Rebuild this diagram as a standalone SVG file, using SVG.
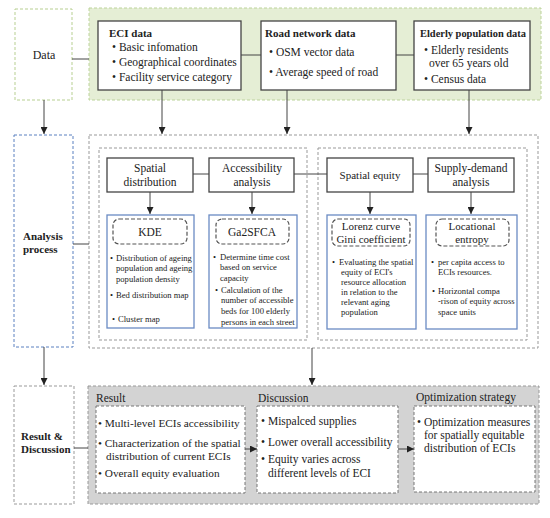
<svg xmlns="http://www.w3.org/2000/svg" width="550" height="518" viewBox="0 0 550 518" font-family="'Liberation Serif', 'DejaVu Serif', serif">
<defs>
<marker id="ah" viewBox="0 0 10 10" refX="10" refY="5" markerWidth="7" markerHeight="7" orient="auto" markerUnits="userSpaceOnUse"><path d="M0,0 L10,5 L0,10 z" fill="#222"/></marker>
<style>
text{font-family:'Liberation Serif','DejaVu Serif',serif;fill:#222}
.b{font-weight:bold;font-size:11px}
.t12{font-size:11.5px}
.t11{font-size:11px}
.t9{font-size:8.6px}
.solid{fill:#fff;stroke:#444;stroke-width:1.3}
.blue{fill:#fff;stroke:#6a8bc4;stroke-width:1.3}
.dash{fill:none;stroke:#999;stroke-width:1;stroke-dasharray:3,2}
.rdash{fill:#fff;stroke:#555;stroke-width:1.2;stroke-dasharray:4,2}
.wdash{fill:#fff;stroke:#777;stroke-width:1;stroke-dasharray:3,2}
.ln{stroke:#444;stroke-width:1;fill:none}
.ar{stroke:#444;stroke-width:1;fill:none;marker-end:url(#ah)}
</style>
</defs>
<rect width="550" height="518" fill="#fff"/>

<!-- Row labels -->
<g id="data-label">
<rect x="15" y="9" width="57" height="91" fill="#fff" stroke="#b7cf91" stroke-width="1" stroke-dasharray="3,2"/>
<text x="44" y="59" text-anchor="middle" style="font-size:12px">Data</text>
</g>
<g id="analysis-label">
<rect x="14" y="135" width="59" height="212" fill="#fff" stroke="#5b80c0" stroke-width="1" stroke-dasharray="3,2"/>
<text x="23" y="240" class="b">Analysis</text>
<text x="23" y="253" class="b">process</text>
</g>
<g id="result-label">
<rect x="14" y="386" width="60" height="118" fill="#fff" stroke="#999" stroke-width="1" stroke-dasharray="3,2"/>
<text x="21" y="440" class="b">Result &amp;</text>
<text x="21" y="453" class="b">Discussion</text>
</g>

<!-- Data area -->
<g id="data-area">
<rect x="89" y="8" width="452" height="92" fill="#e5eed5" stroke="#bcd39a" stroke-width="1" stroke-dasharray="3,2"/>
</g>
<g id="eci-data">
<rect x="98" y="21" width="143" height="69" class="solid"/>
<text x="109" y="37" class="b">ECI  data</text>
<text x="112" y="51" class="t12">• Basic infomation</text>
<text x="112" y="66" class="t12">• Geographical coordinates</text>
<text x="112" y="81" class="t12">• Facility service category</text>
</g>
<g id="road-data">
<rect x="261" y="21" width="135" height="69" class="solid"/>
<text x="265" y="37" class="b">Road network data</text>
<text x="269" y="56" class="t12">• OSM vector data</text>
<text x="269" y="76" class="t12">• Average speed of road</text>
</g>
<g id="elderly-data">
<rect x="414" y="21" width="116" height="69" class="solid"/>
<text x="420" y="37" class="b" textLength="106" lengthAdjust="spacingAndGlyphs">Elderly population data</text>
<text x="424" y="54" class="t12">• Elderly residents</text>
<text x="429" y="67" class="t12">over 65 years old</text>
<text x="424" y="83" class="t12">• Census data</text>
</g>

<!-- Analysis area -->
<g id="analysis-area">
<rect x="89" y="135" width="449" height="213" class="dash"/>
<rect x="99" y="148" width="208" height="192" class="dash"/>
<rect x="318" y="148" width="209" height="192" class="dash"/>
</g>
<g id="spatial-distribution">
<rect x="107" y="158" width="86" height="34" class="solid" stroke-width="1"/>
<text x="150" y="172" text-anchor="middle" class="t12">Spatial</text>
<text x="150" y="186" text-anchor="middle" class="t12">distribution</text>
</g>
<g id="accessibility-analysis">
<rect x="209" y="158" width="85" height="34" class="solid"/>
<text x="252" y="172" text-anchor="middle" class="t12">Accessibility</text>
<text x="252" y="186" text-anchor="middle" class="t12">analysis</text>
</g>
<g id="spatial-equity">
<rect x="327" y="158" width="86" height="34" class="solid"/>
<text x="370" y="179" text-anchor="middle" class="t11">Spatial equity</text>
</g>
<g id="supply-demand">
<rect x="428" y="158" width="86" height="34" class="solid"/>
<text x="471" y="172" text-anchor="middle" class="t12">Supply-demand</text>
<text x="471" y="186" text-anchor="middle" class="t12">analysis</text>
</g>

<g id="kde">
<rect x="107" y="215" width="87" height="113" class="blue"/>
<rect x="113" y="219" width="74" height="25" rx="6" class="rdash"/>
<text x="150" y="236" text-anchor="middle" class="t12">KDE</text>
<text x="110" y="261" class="t9">•</text>
<text x="116" y="261" class="t9">Distribution of ageing</text>
<text x="116" y="271" class="t9">population and ageing</text>
<text x="116" y="282" class="t9">population density</text>
<text x="110" y="298" class="t9">•</text>
<text x="116" y="298" class="t9">Bed distribution map</text>
<text x="112" y="322" class="t9">•</text>
<text x="118" y="322" class="t9">Cluster map</text>
</g>
<g id="ga2sfca">
<rect x="209" y="215" width="88" height="113" class="blue"/>
<rect x="216" y="219" width="73" height="25" rx="6" class="rdash"/>
<text x="252" y="236" text-anchor="middle" class="t12">Ga2SFCA</text>
<text x="213" y="260" class="t9">•</text>
<text x="220" y="260" class="t9">Determine time cost</text>
<text x="220" y="270" class="t9">based on service</text>
<text x="220" y="281" class="t9">capacity</text>
<text x="215" y="293" class="t9">•</text>
<text x="221" y="293" class="t9">Calculation of the</text>
<text x="221" y="303" class="t9">number of accessible</text>
<text x="221" y="314" class="t9">beds for 100 elderly</text>
<text x="221" y="325" class="t9">persons in each street</text>
</g>
<g id="lorenz">
<rect x="327" y="215" width="89" height="114" class="blue"/>
<rect x="332" y="219" width="78" height="27" rx="6" class="rdash"/>
<text x="371" y="230" text-anchor="middle" class="t11">Lorenz curve</text>
<text x="371" y="243" text-anchor="middle" class="t11">Gini coefficient</text>
<text x="332" y="265" class="t9">•</text>
<text x="339" y="265" class="t9">Evaluating the spatial</text>
<text x="341" y="275" class="t9">equity of  ECI's</text>
<text x="341" y="285" class="t9">resource  allocation</text>
<text x="341" y="295" class="t9">in relation  to the</text>
<text x="341" y="305" class="t9">relevant  aging</text>
<text x="341" y="315" class="t9">population</text>
</g>
<g id="locational-entropy">
<rect x="426" y="215" width="91" height="114" class="blue"/>
<rect x="436" y="219" width="73" height="27" rx="6" class="rdash"/>
<text x="472" y="230" text-anchor="middle" class="t11">Locational</text>
<text x="472" y="243" text-anchor="middle" class="t11">entropy</text>
<text x="431" y="265" class="t9">•</text>
<text x="438" y="265" class="t9">per capita access to</text>
<text x="438" y="275" class="t9">ECIs resources.</text>
<text x="432" y="294" class="t9">•</text>
<text x="438" y="294" class="t9">Horizontal compa</text>
<text x="438" y="304" class="t9">-rison of equity across</text>
<text x="438" y="315" class="t9">space units</text>
</g>

<!-- Result area -->
<g id="result-area">
<rect x="88" y="386" width="451" height="118" fill="#d3d3d3" stroke="#999" stroke-width="1" stroke-dasharray="3,2"/>
</g>
<g id="result">
<text x="96" y="402" class="t12">Result</text>
<rect x="96" y="406" width="149" height="87" class="wdash"/>
<text x="98" y="427" style="font-size:11.3px">• Multi-level ECIs accessibility</text>
<text x="98" y="447" style="font-size:11.3px">• Characterization of the spatial</text>
<text x="106" y="460" style="font-size:11.3px">distribution of current ECIs</text>
<text x="98" y="477" style="font-size:11.3px">• Overall equity evaluation</text>
</g>
<g id="discussion">
<text x="258" y="402" class="t12">Discussion</text>
<rect x="257" y="406" width="141" height="87" class="wdash"/>
<text x="261" y="425" class="t12">• Mispalced supplies</text>
<text x="261" y="446" class="t12">• Lower overall accessibility</text>
<text x="261" y="463" class="t12">• Equity varies across</text>
<text x="268" y="477" class="t12">different levels of ECI</text>
</g>
<g id="optimization">
<text x="416" y="401" class="t12">Optimization strategy</text>
<rect x="414" y="406" width="121" height="86" class="wdash"/>
<text x="417" y="426" class="t12">• Optimization measures</text>
<text x="424" y="439" class="t12">for spatially equitable</text>
<text x="424" y="452" class="t12">distribution of ECIs</text>
</g>

<!-- Connectors -->
<g id="connectors">
<path class="ln" d="M72,59 H89"/>
<path class="ln" d="M241,55 H261"/>
<path class="ln" d="M396,55 H414"/>
<path class="ar" d="M44,100 V134"/>
<path class="ar" d="M162,90 V134"/>
<path class="ar" d="M287,90 V134"/>
<path class="ar" d="M469,90 V134"/>
<path class="ln" d="M73,244 H89"/>
<path class="ln" d="M193,174 H209"/>
<path class="ln" d="M294,174 H327"/>
<path class="ln" d="M413,174 H428"/>
<path class="ar" d="M150,192 V214"/>
<path class="ar" d="M252,192 V214"/>
<path class="ar" d="M370,192 V214"/>
<path class="ar" d="M471,192 V214"/>
<path class="ar" d="M44,347 V385"/>
<path class="ar" d="M312,348 V385"/>
<path class="ln" d="M74,448 H88"/>
<path class="ar" d="M245,449 H257"/>
<path class="ar" d="M398,449 H414"/>
</g>
</svg>
